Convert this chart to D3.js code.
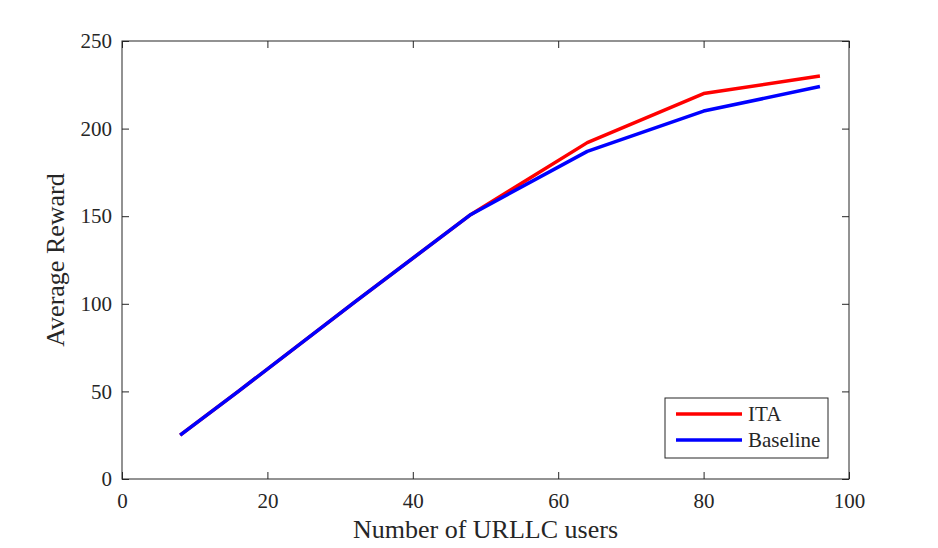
<!DOCTYPE html>
<html>
<head>
<meta charset="utf-8">
<script src="https://cdn.jsdelivr.net/npm/d3@7"></script>
<style>
	body { margin: 0; background: #fff; }
	text { font-family: "Liberation Serif", serif; fill: #262626; }
</style>
</head>
<body>
<svg id="chart" width="938" height="548"></svg>
<script>
// the data
var users = [8, 16, 32, 48, 64, 80, 96];
var itaReward = [25, 50, 101, 151, 192, 220, 230];
var baselineReward = [25, 50, 101, 151, 187, 210, 224];
var xTicks = [0, 20, 40, 60, 80, 100];
var yTicks = [0, 50, 100, 150, 200, 250];
var seriesNames = ['ITA', 'Baseline'];
var seriesColors = ['#ff0000', '#0000ff'];

// plot box (window.top is taken, so own names)
var plotL = 122, plotR = 849, plotT = 41, plotB = 479;
var svg = d3.select('#chart');

var x = d3.scaleLinear().domain([0, 100]).range([plotL, plotR]);
var y = d3.scaleLinear().domain([0, 250]).range([plotB, plotT]);

var axisColor = '#262626';
var tickLen = 7;

// box
svg.append('rect')
	.attr('x', plotL).attr('y', plotT)
	.attr('width', plotR - plotL).attr('height', plotB - plotT)
	.attr('fill', 'none').attr('stroke', axisColor).attr('stroke-width', 1);

function styleAxis(g) {
	g.select('.domain').remove();
	g.selectAll('.tick line').attr('stroke', axisColor);
	g.selectAll('.tick text').style('font-size', '21px').attr('fill', axisColor);
}

svg.append('g').attr('transform', 'translate(0,' + plotB + ')')
	.call(d3.axisBottom(x).tickValues(xTicks).tickSize(-tickLen).tickPadding(14))
	.call(styleAxis);
svg.append('g').attr('transform', 'translate(0,' + plotT + ')')
	.call(d3.axisTop(x).tickValues(xTicks).tickSize(-tickLen).tickFormat(''))
	.call(styleAxis);
svg.append('g').attr('transform', 'translate(' + plotL + ',0)')
	.call(d3.axisLeft(y).tickValues(yTicks).tickSize(-tickLen).tickPadding(10))
	.call(styleAxis);
svg.append('g').attr('transform', 'translate(' + plotR + ',0)')
	.call(d3.axisRight(y).tickValues(yTicks).tickSize(-tickLen).tickFormat(''))
	.call(styleAxis);

// lines
var line = d3.line()
	.x(function (d) { return x(d[0]); })
	.y(function (d) { return y(d[1]); });

[itaReward, baselineReward].forEach(function (vals, i) {
	svg.append('path')
		.datum(users.map(function (u, j) { return [u, vals[j]]; }))
		.attr('d', line)
		.attr('fill', 'none')
		.attr('stroke', seriesColors[i])
		.attr('stroke-width', 3.5)
		.attr('stroke-linejoin', 'round');
});

// axis labels
svg.append('text')
	.attr('x', (plotL + plotR) / 2).attr('y', 538)
	.attr('text-anchor', 'middle')
	.style('font-size', '26px')
	.text('Number of URLLC users');
svg.append('text')
	.attr('transform', 'translate(64,' + (plotT + plotB) / 2 + ') rotate(-90)')
	.attr('text-anchor', 'middle')
	.style('font-size', '26px')
	.text('Average Reward');

// legend
var legend = svg.append('g');
legend.append('rect')
	.attr('x', 665).attr('y', 398).attr('width', 163).attr('height', 60)
	.attr('fill', '#fff').attr('stroke', axisColor).attr('stroke-width', 1);
seriesNames.forEach(function (name, i) {
	var ly = 414 + i * 26;
	legend.append('line')
		.attr('x1', 676).attr('x2', 742).attr('y1', ly).attr('y2', ly)
		.attr('stroke', seriesColors[i]).attr('stroke-width', 3.5);
	legend.append('text')
		.attr('x', 748).attr('y', ly).attr('dy', '0.35em')
		.style('font-size', '21px')
		.text(name);
});
</script>
</body>
</html>
